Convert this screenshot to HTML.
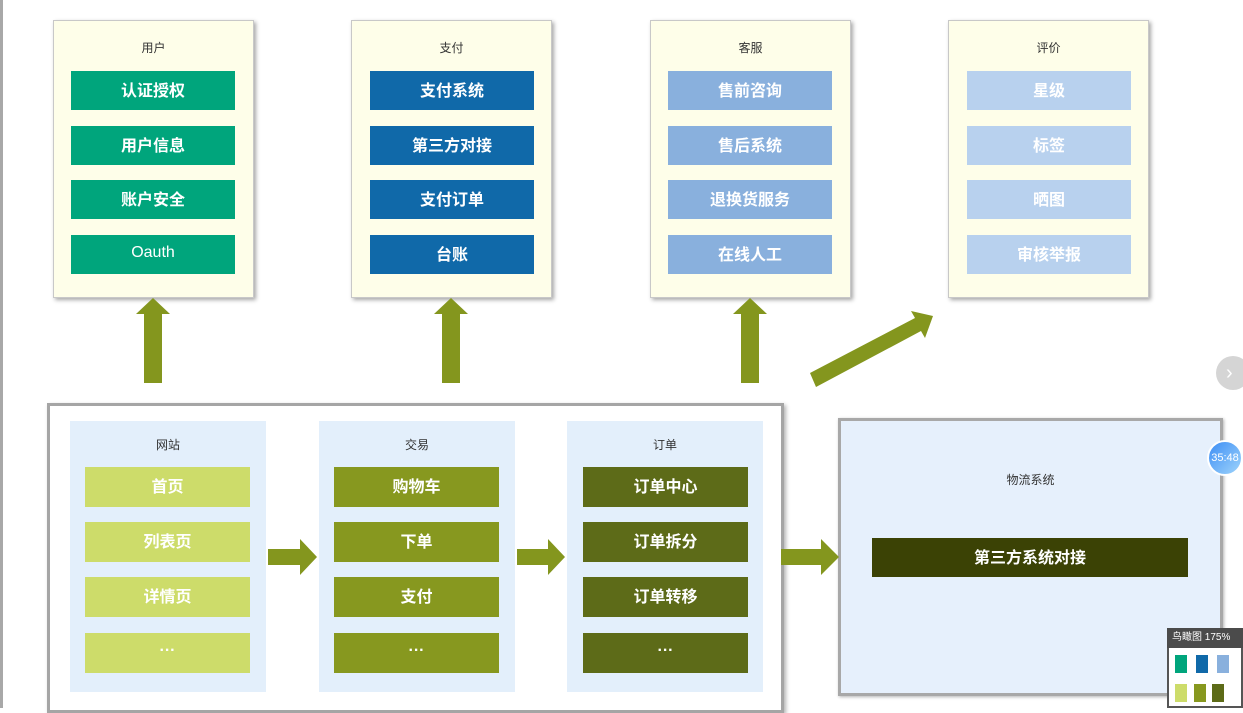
<!DOCTYPE html>
<html><head><meta charset="utf-8"><style>
*{margin:0;padding:0;box-sizing:border-box}
body{width:1243px;height:708px;background:#fff;position:relative;overflow:hidden;font-family:"Liberation Sans","Noto Sans CJK SC",sans-serif}
.a{position:absolute}
.panel{position:absolute;background:#fefee9;border:1px solid #c8c8c8;box-shadow:2px 2px 4px rgba(0,0,0,.35)}
.t{position:absolute;left:0;right:0;text-align:center;font-size:12px;color:#333}
.b{position:absolute;color:#fff;font-size:16px;font-weight:bold;text-align:center;display:flex;align-items:center;justify-content:center;padding-bottom:4px}
.col{position:absolute;background:#e3effb}
</style></head><body>
<div class="a" style="left:0;top:0;width:3px;height:708px;background:#a8a8a8"></div>

<div class="panel" style="left:53px;top:20px;width:201px;height:278px"><div class="t" style="top:18px">用户</div></div>
<div class="panel" style="left:351px;top:20px;width:201px;height:278px"><div class="t" style="top:18px">支付</div></div>
<div class="panel" style="left:650px;top:20px;width:201px;height:278px"><div class="t" style="top:18px">客服</div></div>
<div class="panel" style="left:948px;top:20px;width:201px;height:278px"><div class="t" style="top:18px">评价</div></div>

<div class="b" style="left:71px;top:71px;width:164px;height:39px;background:#00a57c">认证授权</div>
<div class="b" style="left:71px;top:126px;width:164px;height:39px;background:#00a57c">用户信息</div>
<div class="b" style="left:71px;top:180px;width:164px;height:39px;background:#00a57c">账户安全</div>
<div class="b" style="left:71px;top:235px;width:164px;height:39px;background:#00a57c;font-weight:normal">Oauth</div>

<div class="b" style="left:370px;top:71px;width:164px;height:39px;background:#1069a9">支付系统</div>
<div class="b" style="left:370px;top:126px;width:164px;height:39px;background:#1069a9">第三方对接</div>
<div class="b" style="left:370px;top:180px;width:164px;height:39px;background:#1069a9">支付订单</div>
<div class="b" style="left:370px;top:235px;width:164px;height:39px;background:#1069a9">台账</div>

<div class="b" style="left:668px;top:71px;width:164px;height:39px;background:#89b0dd">售前咨询</div>
<div class="b" style="left:668px;top:126px;width:164px;height:39px;background:#89b0dd">售后系统</div>
<div class="b" style="left:668px;top:180px;width:164px;height:39px;background:#89b0dd">退换货服务</div>
<div class="b" style="left:668px;top:235px;width:164px;height:39px;background:#89b0dd">在线人工</div>

<div class="b" style="left:967px;top:71px;width:164px;height:39px;background:#b8d1ee">星级</div>
<div class="b" style="left:967px;top:126px;width:164px;height:39px;background:#b8d1ee">标签</div>
<div class="b" style="left:967px;top:180px;width:164px;height:39px;background:#b8d1ee">晒图</div>
<div class="b" style="left:967px;top:235px;width:164px;height:39px;background:#b8d1ee">审核举报</div>

<div class="a" style="left:47px;top:403px;width:737px;height:310px;background:#fff;border:3px solid #a5a5a5;box-shadow:2px 2px 4px rgba(0,0,0,.3)"></div>
<div class="col" style="left:70px;top:421px;width:196px;height:271px"><div class="t" style="top:15px">网站</div></div>
<div class="col" style="left:319px;top:421px;width:196px;height:271px"><div class="t" style="top:15px">交易</div></div>
<div class="col" style="left:567px;top:421px;width:196px;height:271px"><div class="t" style="top:15px">订单</div></div>

<div class="b" style="left:85px;top:467px;width:165px;height:40px;background:#cddc6a">首页</div>
<div class="b" style="left:85px;top:522px;width:165px;height:40px;background:#cddc6a">列表页</div>
<div class="b" style="left:85px;top:577px;width:165px;height:40px;background:#cddc6a">详情页</div>
<div class="b" style="left:85px;top:633px;width:165px;height:40px;background:#cddc6a">···</div>

<div class="b" style="left:334px;top:467px;width:165px;height:40px;background:#87981f">购物车</div>
<div class="b" style="left:334px;top:522px;width:165px;height:40px;background:#87981f">下单</div>
<div class="b" style="left:334px;top:577px;width:165px;height:40px;background:#87981f">支付</div>
<div class="b" style="left:334px;top:633px;width:165px;height:40px;background:#87981f">···</div>

<div class="b" style="left:583px;top:467px;width:165px;height:40px;background:#5d6b18">订单中心</div>
<div class="b" style="left:583px;top:522px;width:165px;height:40px;background:#5d6b18">订单拆分</div>
<div class="b" style="left:583px;top:577px;width:165px;height:40px;background:#5d6b18">订单转移</div>
<div class="b" style="left:583px;top:633px;width:165px;height:40px;background:#5d6b18">···</div>

<div class="a" style="left:838px;top:418px;width:385px;height:278px;background:#e6f0fc;border:3px solid #a8a8a8;box-shadow:1px 1px 3px rgba(0,0,0,.3)"><div class="t" style="top:50px">物流系统</div></div>
<div class="b" style="left:872px;top:538px;width:316px;height:39px;background:#3b4205">第三方系统对接</div>

<svg class="a" style="left:0;top:0" width="1243" height="708">
<g fill="#84961e">
<polygon points="153,298 170,314 162,314 162,383 144,383 144,314 136,314"/>
<polygon points="451,298 468,314 460,314 460,383 442,383 442,314 434,314"/>
<polygon points="750,298 767,314 759,314 759,383 741,383 741,314 733,314"/>
<polygon points="810,373 915,318 911,311 933,316 925,338 921,331 816,387"/>
<polygon points="268,549 300,549 300,539 317,557 300,575 300,565 268,565"/>
<polygon points="517,549 548,549 548,539 565,557 548,575 548,565 517,565"/>
<polygon points="781,549 821,549 821,539 839,557 821,575 821,565 781,565"/>
</g>
</svg>

<div class="a" style="left:1216px;top:356px;width:34px;height:34px;border-radius:50%;background:#d5d5d5;color:#fff;font-size:20px;line-height:34px;padding-left:10px">›</div>
<div class="a" style="left:1207px;top:440px;width:36px;height:36px;border-radius:50%;background:linear-gradient(135deg,#3d8ef5,#9fd4fb);border:2px solid #fff;color:#fff;font-size:11px;line-height:32px;text-align:center">35:48</div>
<div class="a" style="left:1167px;top:628px;width:76px;height:80px;background:#fff;border:2px solid #555"></div>
<div class="a" style="left:1167px;top:628px;width:76px;height:20px;background:#4b4b4b;color:#fff;font-size:10px;line-height:20px;padding-left:5px">鸟瞰图 175%</div>
<div class="a" style="left:1175px;top:655px;width:12px;height:18px;background:#00a57c"></div>
<div class="a" style="left:1196px;top:655px;width:12px;height:18px;background:#1069a9"></div>
<div class="a" style="left:1217px;top:655px;width:12px;height:18px;background:#89b0dd"></div>
<div class="a" style="left:1175px;top:684px;width:12px;height:18px;background:#cddc6a"></div>
<div class="a" style="left:1194px;top:684px;width:12px;height:18px;background:#87981f"></div>
<div class="a" style="left:1212px;top:684px;width:12px;height:18px;background:#5d6b18"></div>
</body></html>
